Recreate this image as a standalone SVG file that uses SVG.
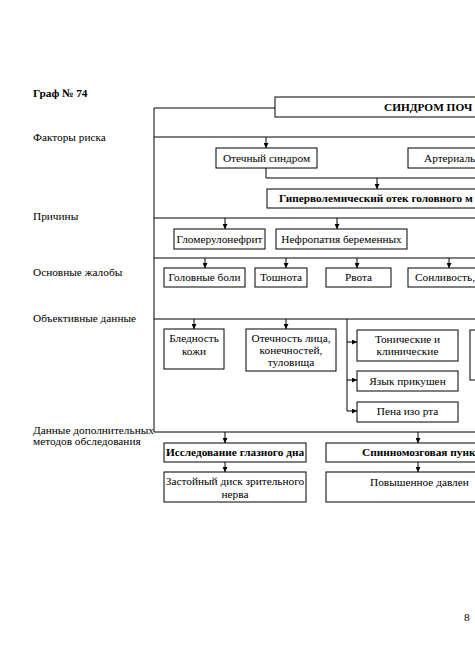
<svg xmlns="http://www.w3.org/2000/svg" width="475" height="671" viewBox="0 0 475 671" font-family="'Liberation Serif', 'Times New Roman', 'DejaVu Serif', serif">
<defs>
<marker id="ah" viewBox="0 0 6 6" refX="6" refY="3" markerWidth="5" markerHeight="5" orient="auto" markerUnits="userSpaceOnUse">
<path d="M0,0 L6,3 L0,6 Z" fill="#000"/>
</marker>
</defs>
<style>
text{font-family:'Liberation Serif','Times New Roman','DejaVu Serif',serif;font-size:11.3px;fill:#000}
.b{font-weight:bold}
.c{text-anchor:middle}
.box{fill:#fff;stroke:#000;stroke-width:1}
.ln{fill:none;stroke:#000;stroke-width:1}
.ar{fill:none;stroke:#000;stroke-width:1;marker-end:url(#ah)}
</style>
<rect width="475" height="671" fill="#fff"/>
<g id="labels">
<text class="b" x="33" y="97">Граф № 74</text>
<text x="33" y="141">Факторы риска</text>
<text x="33" y="220">Причины</text>
<text x="33" y="276">Основные жалобы</text>
<text x="33" y="322">Объективные данные</text>
<text x="33" y="434">Данные дополнительных</text>
<text x="33" y="445">методов обследования</text>
<text x="464" y="621">8</text>
</g>
<g id="connectors">
<path class="ln" d="M275,108 H154 V432 H480"/>
<path class="ln" d="M154,137 H480"/>
<path class="ar" d="M266,137 V148"/>
<path class="ln" d="M266,168 V178 H480"/>
<path class="ar" d="M377,178 V189"/>
<path class="ln" d="M154,218 H480"/>
<path class="ar" d="M225,218 V229"/>
<path class="ar" d="M337,218 V229"/>
<path class="ln" d="M154,258 H480"/>
<path class="ar" d="M205,258 V268"/>
<path class="ar" d="M286,258 V268"/>
<path class="ar" d="M357,258 V268"/>
<path class="ar" d="M449,258 V268"/>
<path class="ln" d="M154,319 H480"/>
<path class="ar" d="M194,319 V329"/>
<path class="ar" d="M286,319 V329"/>
<path class="ln" d="M347,319 V411"/>
<path class="ar" d="M347,342 H357"/>
<path class="ar" d="M347,380 H357"/>
<path class="ar" d="M347,411 H357"/>
<path class="ar" d="M225,432 V443"/>
<path class="ar" d="M418,432 V443"/>
<path class="ar" d="M225,462 V472"/>
<path class="ar" d="M418,462 V472"/>
</g>
<g id="n-syndrome"><rect class="box" x="275" y="97" width="210" height="20"/><text class="b" x="384" y="111">СИНДРОМ ПОЧ</text></g>
<g id="n-otech"><rect class="box" x="216" y="148" width="101" height="20"/><text class="c" x="266.5" y="162">Отечный синдром</text></g>
<g id="n-arter"><rect class="box" x="408" y="148" width="80" height="20"/><text x="424" y="162">Артериаль</text></g>
<g id="n-hyper"><rect class="box" x="267" y="189" width="220" height="19"/><text class="b" x="279" y="202">Гиперволемический отек головного м</text></g>
<g id="n-glom"><rect class="box" x="174" y="229" width="91" height="20"/><text class="c" x="219.5" y="243">Гломерулонефрит</text></g>
<g id="n-nefro"><rect class="box" x="276" y="229" width="131" height="20"/><text class="c" x="341.5" y="243">Нефропатия беременных</text></g>
<g id="n-head"><rect class="box" x="164" y="268" width="81" height="19"/><text class="c" x="204.5" y="281">Головные боли</text></g>
<g id="n-nausea"><rect class="box" x="255" y="268" width="52" height="19"/><text class="c" x="281" y="281">Тошнота</text></g>
<g id="n-vomit"><rect class="box" x="326" y="268" width="65" height="19"/><text class="c" x="358.5" y="281">Рвота</text></g>
<g id="n-sleep"><rect class="box" x="408" y="268" width="80" height="19"/><text x="415" y="281">Сонливость,</text></g>
<g id="n-pale"><rect class="box" x="164" y="329" width="60" height="40"/><text class="c" x="194" y="342">Бледность</text><text class="c" x="194" y="355">кожи</text></g>
<g id="n-edema"><rect class="box" x="246" y="329" width="90" height="42"/><text class="c" x="291" y="342">Отечность лица,</text><text class="c" x="291" y="354">конечностей,</text><text class="c" x="291" y="366">туловища</text></g>
<g id="n-tonic"><rect class="box" x="357" y="330" width="101" height="31"/><text class="c" x="407.5" y="343">Тонические и</text><text class="c" x="407.5" y="355">клинические</text></g>
<g id="n-partial"><rect class="box" x="470" y="330" width="20" height="50"/></g>
<g id="n-tongue"><rect class="box" x="357" y="371" width="101" height="20"/><text class="c" x="407.5" y="385">Язык прикушен</text></g>
<g id="n-foam"><rect class="box" x="357" y="402" width="101" height="20"/><text class="c" x="407.5" y="415">Пена изо рта</text></g>
<g id="n-fundus"><rect class="box" x="164" y="443" width="142" height="19"/><text class="b c" x="235" y="456">Исследование глазного дна</text></g>
<g id="n-puncture"><rect class="box" x="326" y="443" width="160" height="19"/><text class="b" x="362" y="456">Спинномозговая пунк</text></g>
<g id="n-disk"><rect class="box" x="164" y="472" width="142" height="30"/><text class="c" x="235" y="485">Застойный диск зрительного</text><text class="c" x="235" y="498">нерва</text></g>
<g id="n-pressure"><rect class="box" x="326" y="472" width="160" height="30"/><text x="370" y="486">Повышенное давлен</text></g>
</svg>
